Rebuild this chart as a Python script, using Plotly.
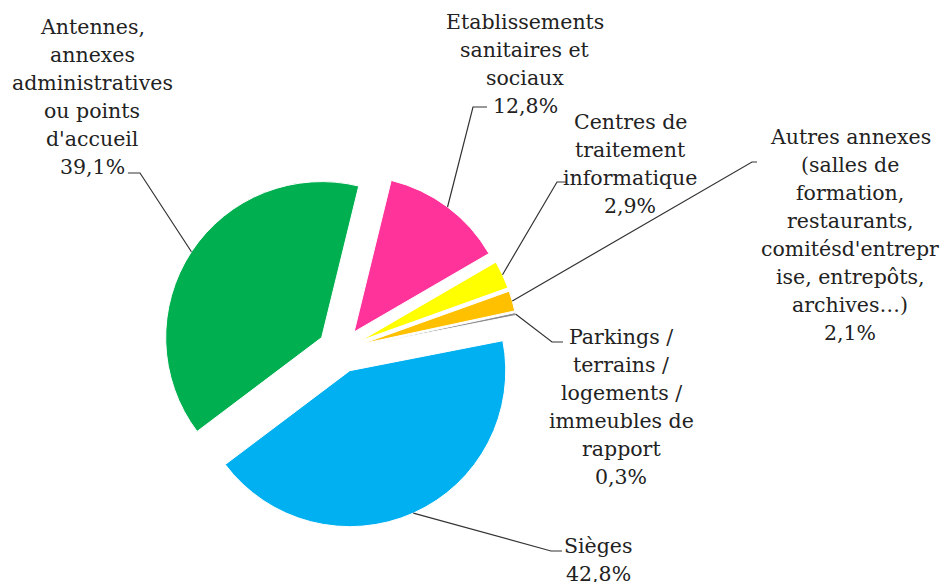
import math
import plotly.graph_objects as go

# ---------------- data ----------------
categories = [
    "Antennes, annexes administratives ou points d'accueil",
    "Etablissements sanitaires et sociaux",
    "Centres de traitement informatique",
    "Autres annexes (salles de formation, restaurants, comitésd'entreprise, entrepôts, archives…)",
    "Parkings / terrains / logements / immeubles de rapport",
    "Sièges",
]
values = [39.1, 12.8, 2.9, 2.1, 0.3, 42.8]
pct_labels = ["39,1%", "12,8%", "2,9%", "2,1%", "0,3%", "42,8%"]
label_lines = [
    ["Antennes,", "annexes", "administratives", "ou points", "d'accueil"],
    ["Etablissements", "sanitaires et", "sociaux"],
    ["Centres de", "traitement", "informatique"],
    ["Autres annexes", "(salles de", "formation,", "restaurants,",
     "comitésd'entrepr", "ise, entrepôts,", "archives…)"],
    ["Parkings /", "terrains /", "logements /", "immeubles de", "rapport"],
    ["Sièges"],
]
colors = ["#00B050", "#FF3399", "#FFFF00", "#FFC000", "#8C8C8C", "#00B0F0"]

# ---------------- layout constants ----------------
W, H = 946, 582
PULL = 0.145
ROTATION = 233
DOM_X = [0.1712, 0.5488]
DOM_Y = [0.0916, 0.7056]
FONT = "DejaVu Serif"
FSIZE = 20.5
TXT = "#222222"
LINE_H = 28

# label blocks (pixel layout): centre x, first line middle y
label_x = [92, 525, 630, 850, 621, 598]
label_y0 = [27, 22, 122, 137, 337, 546]
# leader line elbow and horizontal tail end (pixel layout)
elbow = [(140, 173), (473, 107), (557, 182), (752, 162), (552, 342), (551, 551)]
tail = [(128, 173), (487, 107), (567, 182), (757, 162), (563, 342), (562, 551)]


def px(x):
    return x / W


def py(y):
    return 1 - y / H


fig = go.Figure(go.Pie(
    labels=categories,
    values=values,
    sort=False,
    direction="clockwise",
    rotation=ROTATION,
    pull=[PULL] * len(values),
    marker=dict(colors=colors, line=dict(color="white", width=1)),
    textinfo="none",
    hoverinfo="label+percent",
    domain=dict(x=DOM_X, y=DOM_Y),
    showlegend=False,
))

# geometry like plotly computes it
boxW = W * (DOM_X[1] - DOM_X[0])
boxH = H * (DOM_Y[1] - DOM_Y[0])
R = min(boxW, boxH) / (2 + 2 * PULL)
cx = W * (DOM_X[0] + DOM_X[1]) / 2
cy = H * (1 - DOM_Y[0]) - boxH / 2

total = sum(values)
cum = 0
annotations = []
shapes = []
for i, v in enumerate(values):
    mid = math.radians(ROTATION + 360 * (cum + v / 2) / total)
    cum += v
    d = R * (1 + PULL)
    ax = cx + d * math.sin(mid)
    ay = cy - d * math.cos(mid)
    ex, ey = elbow[i]
    tx, ty = tail[i]
    shapes.append(dict(
        type="path", xref="paper", yref="paper",
        path=f"M {px(ax)} {py(ay)} L {px(ex)} {py(ey)} L {px(tx)} {py(ty)}",
        line=dict(color="#333333", width=1.2),
    ))
    lines = label_lines[i] + [pct_labels[i]]
    for k, t in enumerate(lines):
        annotations.append(dict(
            x=px(label_x[i]), y=py(label_y0[i] + k * LINE_H),
            xref="paper", yref="paper", text=t, showarrow=False,
            xanchor="center", yanchor="middle",
            font=dict(family=FONT, size=FSIZE, color=TXT),
        ))

fig.update_layout(
    width=W, height=H,
    margin=dict(l=0, r=0, t=0, b=0),
    paper_bgcolor="white", plot_bgcolor="white",
    annotations=annotations, shapes=shapes,
)

fig.write_html("out.html", config={"displayModeBar": False},
               post_script="document.body.style.margin='0';")
